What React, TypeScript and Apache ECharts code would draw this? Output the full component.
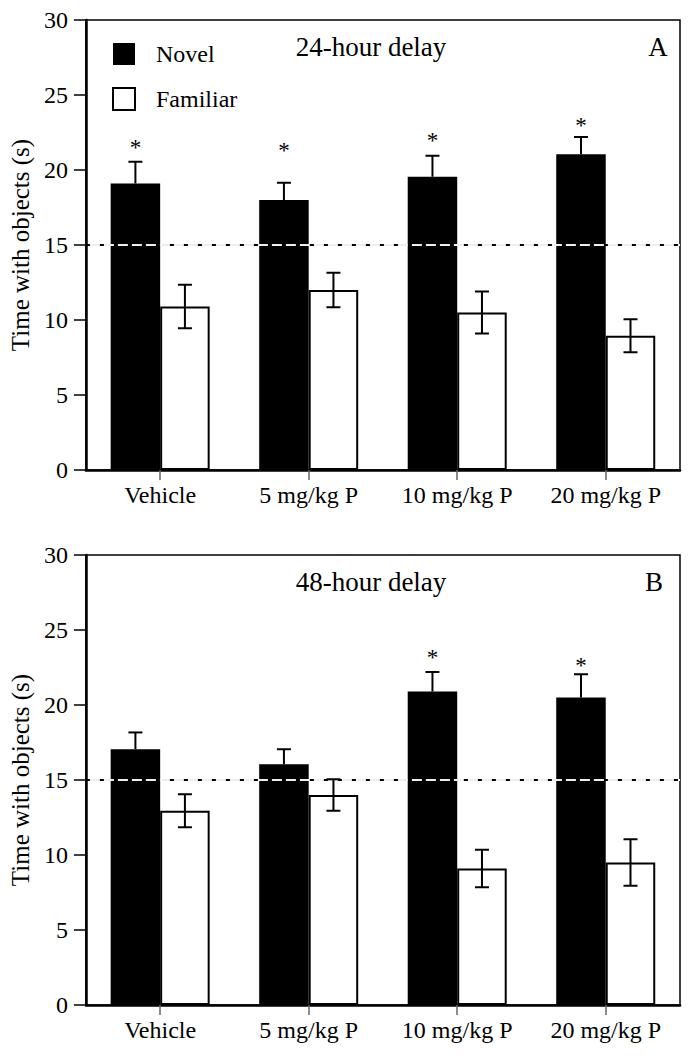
import React, { useEffect, useRef } from "react";
import * as echarts from "echarts";

const categories = ["Vehicle", "5 mg/kg P", "10 mg/kg P", "20 mg/kg P"];
const yTicks = { min: 0, max: 30, interval: 5 };
const chanceLevel = 15;

// Panel A: 24-hour delay
const novelA = [19.1, 18.0, 19.55, 21.05];
const novelSemA = [1.45, 1.15, 1.4, 1.15];
const familiarA = [10.9, 12.0, 10.5, 8.95];
const familiarSemA = [1.45, 1.15, 1.4, 1.1];
const asteriskA = [21.8, 21.6, 22.3, 23.25];

// Panel B: 48-hour delay
const novelB = [17.05, 16.05, 20.9, 20.5];
const novelSemB = [1.12, 1.0, 1.3, 1.55];
const familiarB = [12.95, 14.0, 9.1, 9.5];
const familiarSemB = [1.1, 1.05, 1.25, 1.55];
const asteriskB: (number | null)[] = [null, null, 23.5, 22.95];

const FONT = "Liberation Serif";
const STAR_SIZE = 23;

function errSeries(axis: number, means: number[], sems: number[], sign: number, both: boolean) {
  return {
    type: "custom",
    xAxisIndex: axis,
    yAxisIndex: axis,
    z: 10,
    silent: true,
    encode: { x: 0, y: 1 },
    data: means.map((m, i) => [i, m, sems[i]]),
    renderItem: (params: any, api: any) => {
      const i = api.value(0);
      const m = api.value(1);
      const s = api.value(2);
      const band = api.size([1, 0])[0];
      const off = (sign * band) / 6;
      const top = api.coord([i, m + s]);
      const bot = api.coord([i, both ? m - s : m]);
      const x = top[0] + off;
      const cap = 7;
      const st = { stroke: "#000", lineWidth: 2 };
      const children: any[] = [
        { type: "line", shape: { x1: x, y1: top[1], x2: x, y2: bot[1] }, style: st },
        { type: "line", shape: { x1: x - cap, y1: top[1], x2: x + cap, y2: top[1] }, style: st },
      ];
      if (both) {
        children.push({ type: "line", shape: { x1: x - cap, y1: bot[1], x2: x + cap, y2: bot[1] }, style: st });
      }
      return { type: "group", children };
    },
  };
}

function starSeries(axis: number, ys: (number | null)[]) {
  const data: any[] = [];
  ys.forEach((y, i) => {
    if (y !== null) data.push([i, y]);
  });
  return {
    type: "custom",
    xAxisIndex: axis,
    yAxisIndex: axis,
    z: 10,
    silent: true,
    encode: { x: 0, y: 1 },
    data,
    renderItem: (params: any, api: any) => {
      const i = api.value(0);
      const y = api.value(1);
      const band = api.size([1, 0])[0];
      const p = api.coord([i, y]);
      return {
        type: "text",
        x: p[0] - band / 6,
        y: p[1] + STAR_SIZE * 0.2,
        style: { text: "*", font: `${STAR_SIZE}px ${FONT}`, fill: "#000", align: "center", verticalAlign: "middle" },
      };
    },
  };
}

// horizontal reference line at chance level: light under-stroke + black dots on top of bars
function chanceSeries(axis: number) {
  return {
    type: "custom",
    xAxisIndex: axis,
    yAxisIndex: axis,
    z: 6,
    silent: true,
    encode: { x: 0, y: 1 },
    data: [[0, chanceLevel]],
    renderItem: (params: any, api: any) => {
      const cs = params.coordSys;
      const y = api.coord([0, api.value(1)])[1];
      const x1 = cs.x;
      const x2 = cs.x + cs.width;
      return {
        type: "group",
        children: [
          { type: "line", shape: { x1, y1: y, x2, y2: y }, style: { stroke: "#eeeeee", lineWidth: 2 } },
          { type: "line", shape: { x1, y1: y, x2, y2: y }, style: { stroke: "#000", lineWidth: 2, lineDash: [4, 10] } },
        ],
      };
    },
  };
}

function barSeries(axis: number, name: string, values: number[], novel: boolean) {
  return {
    type: "bar",
    name,
    xAxisIndex: axis,
    yAxisIndex: axis,
    data: values,
    barWidth: "33.33%",
    barGap: "0%",
    z: 2,
    silent: true,
    itemStyle: novel
      ? { color: "#000" }
      : { color: "#fff", borderColor: "#000", borderWidth: 2 },
  };
}

function xAxisCfg(grid: number) {
  return {
    type: "category",
    gridIndex: grid,
    data: categories,
    axisLine: { show: true, lineStyle: { color: "#000", width: 2.5 } },
    axisTick: { show: true, alignWithLabel: true, length: 10, lineStyle: { color: "#666", width: 1.5 } },
    axisLabel: { color: "#000", fontSize: 24, fontFamily: FONT, margin: 13 },
  };
}

function yAxisCfg(grid: number) {
  return {
    type: "value",
    gridIndex: grid,
    min: yTicks.min,
    max: yTicks.max,
    interval: yTicks.interval,
    name: "Time with objects (s)",
    nameLocation: "middle",
    nameRotate: 90,
    nameGap: 44,
    nameTextStyle: { color: "#000", fontSize: 25, fontFamily: FONT },
    splitLine: { show: false },
    axisLine: { show: true, lineStyle: { color: "#000", width: 2.5 } },
    axisTick: { show: true, length: 12, lineStyle: { color: "#000", width: 1.5 } },
    axisLabel: { color: "#000", fontSize: 24, fontFamily: FONT, margin: 18 },
  };
}

function textEl(text: string, x: number, y: number) {
  return {
    type: "text",
    x,
    y,
    silent: true,
    style: { text, fill: "#000", font: `27px ${FONT}`, align: "center", verticalAlign: "middle" },
  };
}

export default function App() {
  const ref = useRef<HTMLDivElement>(null);
  useEffect(() => {
    document.body.style.margin = "0";
    document.body.style.overflow = "hidden";
    if (!ref.current) return;
    const chart = echarts.init(ref.current, null, { renderer: "svg" });
    chart.setOption({
      animation: false,
      backgroundColor: "#fff",
      grid: [
        { left: 80, top: 20, width: 600, height: 450, show: true, borderColor: "#000", borderWidth: 1.5 },
        { left: 80, top: 555, width: 600, height: 450, show: true, borderColor: "#000", borderWidth: 1.5 },
      ],
      xAxis: [xAxisCfg(0), xAxisCfg(1)],
      yAxis: [yAxisCfg(0), yAxisCfg(1)],
      legend: {
        left: 107,
        top: 37,
        orient: "vertical",
        icon: "rect",
        itemWidth: 22,
        itemHeight: 22,
        itemGap: 21,
        selectedMode: false,
        textStyle: { color: "#000", fontSize: 24, fontFamily: FONT, padding: [0, 0, 0, 16] },
        data: [
          { name: "Novel", itemStyle: { color: "#000" } },
          { name: "Familiar", itemStyle: { color: "#fff", borderColor: "#000", borderWidth: 2 } },
        ],
      },
      graphic: [
        textEl("24-hour delay", 371, 47),
        textEl("A", 658, 47),
        textEl("48-hour delay", 371, 582),
        textEl("B", 654, 582),
      ],
      series: [
        barSeries(0, "Novel", novelA, true),
        barSeries(0, "Familiar", familiarA, false),
        chanceSeries(0),
        errSeries(0, novelA, novelSemA, -1, false),
        errSeries(0, familiarA, familiarSemA, 1, true),
        starSeries(0, asteriskA),
        barSeries(1, "Novel", novelB, true),
        barSeries(1, "Familiar", familiarB, false),
        chanceSeries(1),
        errSeries(1, novelB, novelSemB, -1, false),
        errSeries(1, familiarB, familiarSemB, 1, true),
        starSeries(1, asteriskB),
      ],
    });
    return () => chart.dispose();
  }, []);
  return <div ref={ref} style={{ width: 692, height: 1059 }} />;
}
